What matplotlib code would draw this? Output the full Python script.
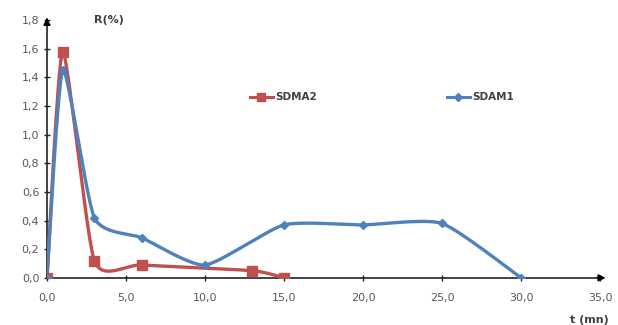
import numpy as np
import matplotlib
matplotlib.use("Agg")
import matplotlib.pyplot as plt

# data
t_sdma2 = [0, 1, 3, 6, 13, 15]
r_sdma2 = [0.0, 1.58, 0.12, 0.09, 0.05, 0.0]
t_sdam1 = [0, 1, 3, 6, 10, 15, 20, 25, 30]
r_sdam1 = [0.0, 1.45, 0.42, 0.28, 0.09, 0.37, 0.37, 0.38, 0.0]
xticks = [0, 5, 10, 15, 20, 25, 30, 35]
yticks = [0, 0.2, 0.4, 0.6, 0.8, 1.0, 1.2, 1.4, 1.6, 1.8]

red = "#C0504D"
blue = "#4F81BD"


def smooth(x, y, n=30, tension=0.3):
    # excel-like smoothed line (cardinal spline through the points)
    x = np.asarray(x, float)
    y = np.asarray(y, float)
    px = np.concatenate([[x[0]], x, [x[-1]]])
    py = np.concatenate([[y[0]], y, [y[-1]]])
    xs, ys = [], []
    for i in range(1, len(px) - 2):
        p0, p1, p2, p3 = (np.array([px[j], py[j]]) for j in range(i - 1, i + 3))
        m1 = tension * (p2 - p0)
        m2 = tension * (p3 - p1)
        s = np.linspace(0, 1, n)[:, None]
        h00 = 2 * s**3 - 3 * s**2 + 1
        h10 = s**3 - 2 * s**2 + s
        h01 = -2 * s**3 + 3 * s**2
        h11 = s**3 - s**2
        pts = h00 * p1 + h10 * m1 + h01 * p2 + h11 * m2
        xs.extend(pts[:, 0])
        ys.extend(pts[:, 1])
    return xs, ys


fig = plt.figure(figsize=(6.18, 3.25), dpi=100)
ax = fig.add_axes([0.076, 0.145, 0.895, 0.793])

sx, sy = smooth(t_sdma2, r_sdma2)
ax.plot(sx, sy, color=red, lw=2.4, zorder=3)
ax.plot(t_sdma2, r_sdma2, ls="none", marker="s", ms=7.5, color=red, zorder=4)
bx, by = smooth(t_sdam1, r_sdam1)
ax.plot(bx, by, color=blue, lw=2.4, zorder=3)
ax.plot(t_sdam1, r_sdam1, ls="none", marker="D", ms=4.5, color=blue, zorder=4)

# legend
h1, = ax.plot([], [], color=red, lw=2.2, marker="s", ms=6)
h2, = ax.plot([], [], color=blue, lw=2.2, marker="D", ms=4)
ax.legend([h1, h2], ["SDMA2", "SDAM1"], ncol=2, frameon=False,
          loc="center left", bbox_to_anchor=(0.35, 0.7), columnspacing=12.5,
          handlelength=2.2, handletextpad=0.2,
          prop={"weight": "bold", "size": 7.5}, labelcolor="#404040")

ax.set_xlim(0, 35)
ax.set_ylim(0, 1.8)
ax.set_xticks(xticks)
ax.set_xticklabels([f"{v:.1f}".replace(".", ",") for v in xticks])
ax.set_yticks(yticks)
ax.set_yticklabels([f"{v:.1f}".replace(".", ",") for v in yticks])
ax.tick_params(direction="inout", length=4, width=1, labelsize=8,
               labelcolor="#595959", color="#222222")
ax.tick_params(axis="x", pad=9)
ax.spines[["top", "right"]].set_visible(False)
for s in ["left", "bottom"]:
    ax.spines[s].set_linewidth(1.2)
    ax.spines[s].set_color("#222222")

# arrow heads on the axes
ax.annotate("", xy=(1.015, 0), xytext=(0.99, 0), xycoords="axes fraction",
            arrowprops=dict(arrowstyle="-|>", color="black", lw=1.2,
                            mutation_scale=10), annotation_clip=False)
ax.annotate("", xy=(0, 1.02), xytext=(0, 0.99), xycoords="axes fraction",
            arrowprops=dict(arrowstyle="-|>", color="black", lw=1.2,
                            mutation_scale=10), annotation_clip=False)

ax.text(0.085, 1.0, "R(%)", transform=ax.transAxes, fontsize=8,
        fontweight="bold", color="#404040", va="center")
ax.text(0.945, -0.165, "t (mn)", transform=ax.transAxes, fontsize=8,
        fontweight="bold", color="#404040", va="center")

fig.savefig("out.png", dpi=100)
